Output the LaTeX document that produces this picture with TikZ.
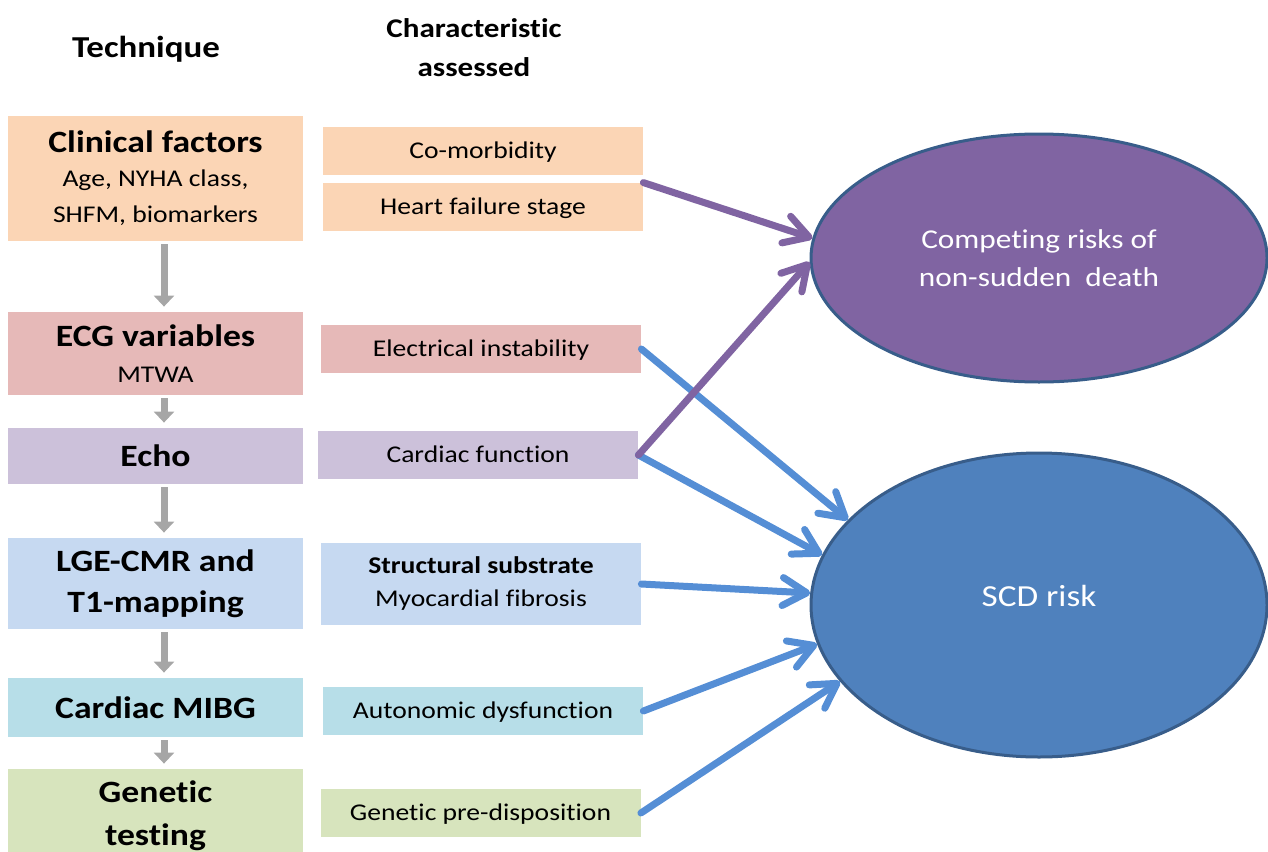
\documentclass[tikz,border=0pt]{standalone}
\usepackage{fontspec}
\setmainfont{Carlito}[FakeStretch=1.15, Ligatures=NoCommon]
\usetikzlibrary{arrows.meta,shapes.geometric}
\definecolor{clinc}{HTML}{FBD5B5}
\definecolor{ecgc}{HTML}{E6B9B8}
\definecolor{echoc}{HTML}{CCC1DA}
\definecolor{lgec}{HTML}{C6D9F1}
\definecolor{mibgc}{HTML}{B7DEE8}
\definecolor{genc}{HTML}{D7E4BD}
\definecolor{garrow}{HTML}{A6A6A6}
\definecolor{purpc}{HTML}{8064A2}
\definecolor{bluec}{HTML}{558ED5}
\definecolor{scdc}{HTML}{4F81BD}
\definecolor{edgec}{HTML}{385D8A}
\begin{document}
\begin{tikzpicture}[x=0.5pt,y=-0.5pt,
  lbox/.style={rectangle, minimum width=147.5pt, inner sep=0pt, align=center,
    font=\fontsize{15.5}{20.5}\selectfont\bfseries},
  mbox/.style={rectangle, minimum width=160pt, minimum height=24pt, inner sep=0pt, align=center,
    font=\fontsize{12}{14.5}\selectfont},
  oneline/.style={mbox, text height=10.5pt, text depth=3pt},
  flowarr/.style={draw=garrow, line width=3.5pt, -{Triangle[width=10pt,length=5.5pt]},
    shorten <=1.5pt, shorten >=2.5pt},
  risk/.style={ellipse, draw=edgec, line width=1.5pt, minimum width=228pt, text=white,
    inner sep=0pt, align=center},
  parr/.style={draw=purpc, line width=3.5pt, line cap=round, -{Straight Barb[length=12pt,width=14pt,round]}},
  barr/.style={draw=bluec, line width=3.5pt, line cap=round, -{Straight Barb[length=12pt,width=14pt,round]}},
  hdr/.style={align=center, inner sep=0pt}
]
\useasboundingbox (0,0) rectangle (1268,851);
\clip (0,0) rectangle (1268,851);

% headers
\node[hdr, font=\fontsize{15.2}{18}\selectfont\bfseries] (h1) at (146,49) {Technique};
\node[hdr, font=\fontsize{13.5}{19.5}\selectfont\bfseries] (h2) at (474,48) {Characteristic\\assessed};

% left column
\node[lbox, fill=clinc, minimum height=62.5pt, font=\fontsize{12}{13.5}\selectfont] (clin) at (155.5,178.5)
  {{\fontsize{15.5}{17}\selectfont\bfseries Clinical factors}\\[3.5pt]Age, NYHA class,\\[4.5pt]SHFM, biomarkers};
\node[lbox, fill=ecgc, minimum height=41.5pt, font=\fontsize{12}{13.5}\selectfont] (ecg) at (155.5,353.5)
  {{\fontsize{15.5}{17}\selectfont\bfseries ECG variables}\\[4.5pt]MTWA};
\node[lbox, fill=echoc, minimum height=28pt] (echo) at (155.5,456) {Echo};
\node[lbox, fill=lgec, minimum height=45.5pt] (lge) at (155.5,583.5) {LGE-CMR and\\T1-mapping};
\node[lbox, fill=mibgc, minimum height=29.5pt] (mibg) at (155.5,707.5) {Cardiac MIBG};
\node[lbox, fill=genc, minimum height=46.5pt, font=\fontsize{15.5}{21.5}\selectfont\bfseries] (gen) at (155.5,815.5) {Genetic\\testing};

% gray flow arrows
\draw[flowarr] ([xshift=4.25pt]clin.south) -- ([xshift=4.25pt]ecg.north);
\draw[flowarr] ([xshift=4.25pt]ecg.south) -- ([xshift=4.25pt]echo.north);
\draw[flowarr] ([xshift=4.25pt]echo.south) -- ([xshift=4.25pt]lge.north);
\draw[flowarr] ([xshift=4.25pt]lge.south) -- ([xshift=4.25pt]mibg.north);
\draw[flowarr] ([xshift=4.25pt]mibg.south) -- ([xshift=4.25pt]gen.north);

% middle column
\node[oneline, fill=clinc] (como) at (483,151) {Co-morbidity};
\node[oneline, fill=clinc] (hf) at (483,207) {Heart failure stage};
\node[oneline, fill=ecgc] (elec) at (481,349) {Electrical instability};
\node[oneline, fill=echoc] (card) at (478,455) {Cardiac function};
\node[mbox, fill=lgec, minimum height=41pt, font=\fontsize{12}{16.5}\selectfont] (struct) at (481,584)
  {\textbf{Structural substrate}\\Myocardial fibrosis};
\node[oneline, fill=mibgc] (auto) at (483,711) {Autonomic dysfunction};
\node[oneline, fill=genc] (genp) at (480.5,813) {Genetic pre-disposition};

% outcome ellipses
\node[risk, fill=purpc, minimum height=124pt, font=\fontsize{13.6}{19}\selectfont] (comp) at (1039,258)
  {Competing risks of\\non-sudden\ \ death};
\node[risk, fill=scdc, minimum height=152pt, font=\fontsize{15.3}{18}\selectfont, text depth=9pt] (scd) at (1039,605)
  {SCD risk};

% connectors
\draw[parr] (hf.north east) -- (comp.175.5);
\draw[barr] (elec.east) -- (scd.156);
\draw[barr] (card.east) -- (scd.167);
\draw[parr] (card.east) -- (comp.181);
\draw[barr] (struct.east) -- (scd.177.5);
\draw[barr] (auto.east) -- (scd.190);
\draw[barr] (genp.east) -- (scd.201);
\end{tikzpicture}
\end{document}
